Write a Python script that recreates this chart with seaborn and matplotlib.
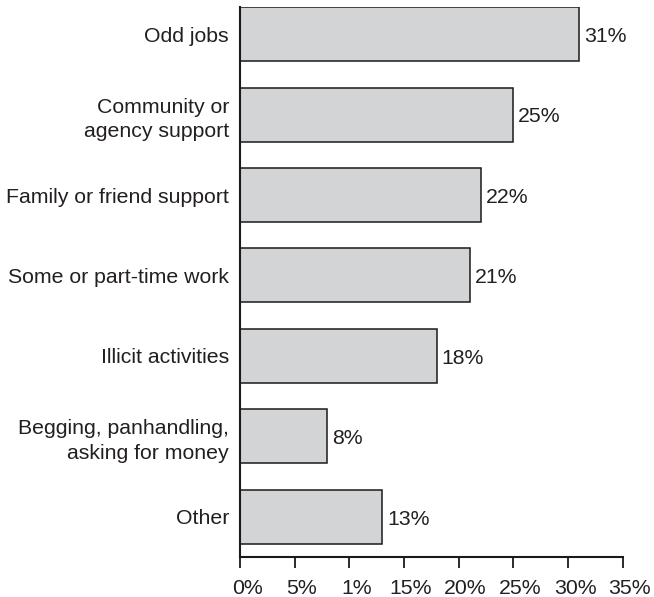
import matplotlib
matplotlib.use("Agg")
import matplotlib.pyplot as plt
import matplotlib.transforms as mtransforms
import seaborn as sns

categories = [
    "Odd jobs",
    "Community or\nagency support",
    "Family or friend support",
    "Some or part-time work",
    "Illicit activities",
    "Begging, panhandling,\nasking for money",
    "Other",
]
shares = [31, 25, 22, 21, 18, 8, 13]
value_labels = ["31%", "25%", "22%", "21%", "18%", "8%", "13%"]
tick_values = [0, 5, 10, 15, 20, 25, 30, 35]
tick_labels = ["0%", "5%", "1%", "15%", "20%", "25%", "30%", "35%"]

sns.set_style("white")
plt.rcParams["font.family"] = ["Liberation Sans", "DejaVu Sans"]
text_color = "#231f20"
fsize = 15.3

fig = plt.figure(figsize=(6.54, 5.97), dpi=100)
ax = fig.add_axes([0.367, 0.067, 0.585, 0.921])

sns.barplot(
    x=shares,
    y=categories,
    orient="h",
    color="#d3d4d6",
    edgecolor="#1a1a1a",
    linewidth=1.1,
    width=0.67,
    saturation=1,
    ax=ax,
)

# value labels at the end of each bar
for i, (v, lab) in enumerate(zip(shares, value_labels)):
    ax.text(v + 0.45, i + 0.03, lab, va="center", ha="left",
            fontsize=fsize, color=text_color)

ax.set_xlim(0, 35)
ax.set_ylim(6.5, -0.335)
ax.set_xticks(tick_values)
ax.set_xticklabels(tick_labels, fontsize=fsize, color=text_color)
ax.tick_params(axis="x", bottom=True, direction="out", length=8, width=1.3,
               color="#1a1a1a", pad=8)
ax.tick_params(axis="y", left=False, length=0, pad=8, labelsize=fsize,
               labelcolor=text_color)
for lab in ax.get_yticklabels():
    lab.set_linespacing(1.35)
ax.set_xlabel("")
ax.set_ylabel("")

# the percent labels sit a little right of their ticks in the original
shift = mtransforms.ScaledTranslation(0.07, 0, fig.dpi_scale_trans)
for lab in ax.get_xticklabels():
    lab.set_transform(lab.get_transform() + shift)

for side in ["top", "right"]:
    ax.spines[side].set_visible(False)
for side in ["left", "bottom"]:
    ax.spines[side].set_color("#1a1a1a")
    ax.spines[side].set_linewidth(1.5)

fig.savefig("out.png", dpi=100)
